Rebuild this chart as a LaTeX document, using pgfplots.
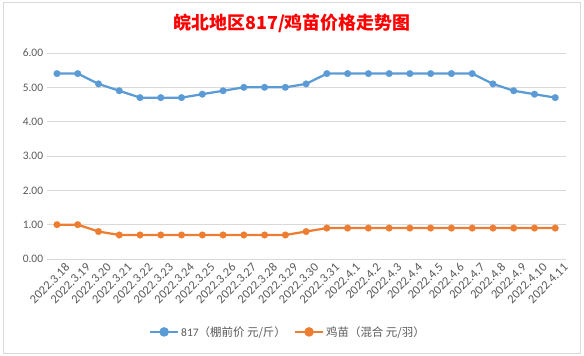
\documentclass[border=0pt]{standalone}
\usepackage{pgfplots}
\pgfplotsset{compat=1.18}
\usepackage{fontspec}
\setmainfont{Carlito}
\newfontfamily\cjk{Noto Sans CJK SC}
\definecolor{cblue}{HTML}{5B9BD5}
\definecolor{corange}{HTML}{ED7D31}
\definecolor{tgray}{HTML}{595959}
\definecolor{ggray}{HTML}{D9D9D9}
\begin{document}
\begin{tikzpicture}
\useasboundingbox (0bp,0bp) rectangle (584bp,356bp);
\draw[ggray, line width=0.75bp] (3bp,3bp) rectangle (580bp,354bp);
\node[text=red, font={\cjk\bfseries\fontsize{18}{20}\selectfont}] at (292bp,333bp) {皖北地区817/鸡苗价格走势图};
\begin{axis}[
  at={(46.6bp,97bp)}, anchor=south west,
  scale only axis, width=519bp, height=206bp,
  xmin=-0.5, xmax=24.5, ymin=0, ymax=6,
  axis line style={draw=none},
  ytick={0,1,2,3,4,5,6},
  yticklabel style={/pgf/number format/.cd, fixed, fixed zerofill, precision=2, assume math mode=true},
  ymajorgrids, grid style={ggray, line width=0.75bp},
  tick style={draw=none},
  xtick={0,...,24},
  xticklabels={2022.3.18,2022.3.19,2022.3.20,2022.3.21,2022.3.22,2022.3.23,2022.3.24,2022.3.25,2022.3.26,2022.3.27,2022.3.28,2022.3.29,2022.3.30,2022.3.31,2022.4.1,2022.4.2,2022.4.3,2022.4.4,2022.4.5,2022.4.6,2022.4.7,2022.4.8,2022.4.9,2022.4.10,2022.4.11},
  ticklabel style={text=tgray, font=\fontsize{11.5}{13}\selectfont},
  xticklabel style={rotate=45, anchor=east, inner sep=0pt, xshift=3bp, yshift=-12bp, font=\fontsize{12.5}{14}\selectfont},
  legend columns=2,
  legend style={draw=none, at={(0.465,-0.354)}, anchor=center, font=\fontsize{11.5}{13}\selectfont, text=tgray, inner sep=1bp, /tikz/every even column/.append style={column sep=6bp}},
  legend image code/.code={\draw[#1] (0bp,0bp) -- (28bp,0bp); \fill[#1] (14bp,0bp) circle (3.6bp);},
]
\addplot[cblue, line width=2.25bp, mark=*, mark size=3.4bp, mark options={solid, fill=cblue, draw=cblue, line width=0.1bp}] coordinates {
(0,5.4)(1,5.4)(2,5.1)(3,4.9)(4,4.7)(5,4.7)(6,4.7)(7,4.8)(8,4.9)(9,5.0)(10,5.0)(11,5.0)(12,5.1)
(13,5.4)(14,5.4)(15,5.4)(16,5.4)(17,5.4)(18,5.4)(19,5.4)(20,5.4)(21,5.1)(22,4.9)(23,4.8)(24,4.7)};
\addlegendentry{817{\cjk（棚前价 元/斤）}}
\addplot[corange, line width=2.25bp, mark=*, mark size=3.4bp, mark options={solid, fill=corange, draw=corange, line width=0.1bp}] coordinates {
(0,1.0)(1,1.0)(2,0.8)(3,0.7)(4,0.7)(5,0.7)(6,0.7)(7,0.7)(8,0.7)(9,0.7)(10,0.7)(11,0.7)(12,0.8)
(13,0.9)(14,0.9)(15,0.9)(16,0.9)(17,0.9)(18,0.9)(19,0.9)(20,0.9)(21,0.9)(22,0.9)(23,0.9)(24,0.9)};
\addlegendentry{{\cjk 鸡苗（混合 元/羽）}}
\end{axis}
\end{tikzpicture}
\end{document}
